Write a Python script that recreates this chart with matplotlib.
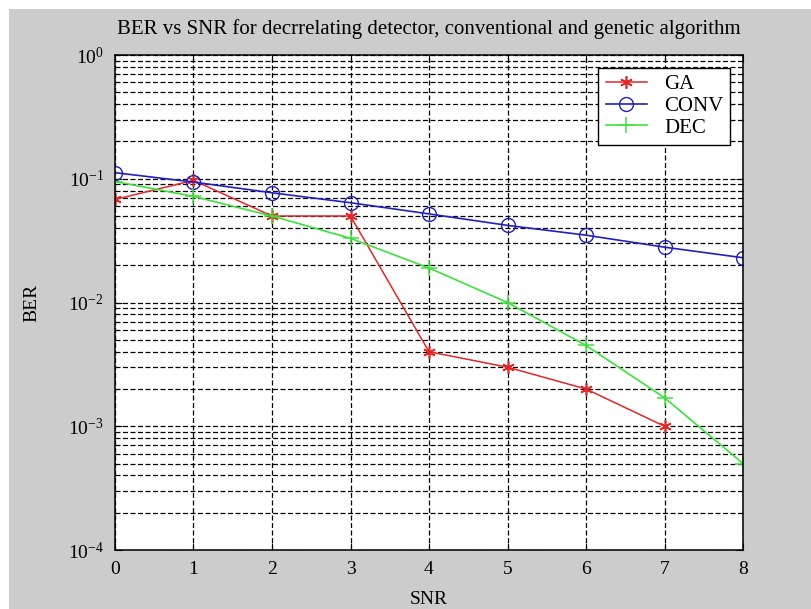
import matplotlib
matplotlib.use('Agg')
import matplotlib.pyplot as plt
from matplotlib.patches import Rectangle
from matplotlib.ticker import LogLocator, NullFormatter

plt.rcParams['font.family'] = 'Liberation Serif'
plt.rcParams['mathtext.fontset'] = 'custom'
plt.rcParams['mathtext.rm'] = 'Liberation Serif'
plt.rcParams['font.size'] = 13

# Data
snr_ga = [0, 1, 2, 3, 4, 5, 6, 7]
ber_ga = [0.068, 0.097, 0.050, 0.050, 0.0040, 0.0030, 0.0020, 0.0010]

snr = [0, 1, 2, 3, 4, 5, 6, 7, 8]
ber_conv = [0.112, 0.094, 0.077, 0.064, 0.052, 0.042, 0.035, 0.028, 0.023]
ber_dec = [0.095, 0.072, 0.050, 0.033, 0.019, 0.0100, 0.0045, 0.0017, 0.0005]

fig = plt.figure(figsize=(8.12, 6.09), dpi=100, facecolor='white')
# grey MATLAB-style figure background with a thin white margin top/left
fig.patches.append(Rectangle((9 / 812, 0), 803 / 812, 600 / 609,
                             transform=fig.transFigure, facecolor='#cccccc',
                             edgecolor='none', zorder=-1))

ax = fig.add_axes([115 / 812, 59 / 609, 628 / 812, 495 / 609])
ax.set_facecolor('white')

ax.plot(snr_ga, ber_ga, color='#e02828', marker=(6, 2, 0), markersize=9,
        markeredgewidth=1.2, linewidth=1.1, label='GA')
ax.plot(snr, ber_conv, color='#2020c0', marker='o', markersize=10,
        markerfacecolor='none', markeredgewidth=1.0, linewidth=1.2, label='CONV')
ax.plot(snr, ber_dec, color='#3ee03e', marker='+', markersize=11,
        markeredgewidth=1.1, linewidth=1.2, label='DEC')

ax.set_yscale('log')
ax.set_xlim(0, 8)
ax.set_ylim(1e-4, 1)
ax.set_xticks(range(0, 9))
ax.yaxis.set_major_locator(LogLocator(base=10, numticks=10))
ax.yaxis.set_minor_locator(LogLocator(base=10, subs=range(2, 10), numticks=20))
ax.yaxis.set_minor_formatter(NullFormatter())

# dotted MATLAB grid
grid_style = dict(color='black', linestyle=(0, (4, 2)), linewidth=0.9)
ax.grid(True, which='major', **grid_style)
ax.grid(True, which='minor', axis='y', **grid_style)
ax.set_axisbelow(True)

ax.tick_params(which='both', direction='in', top=True, right=True)
ax.tick_params(which='major', length=5, pad=8, labelsize=14)
ax.tick_params(which='minor', length=3)
for s in ax.spines.values():
    s.set_linewidth(1.1)

ax.set_title('BER vs SNR for decrrelating detector, conventional and genetic algorithm',
             fontsize=15, pad=15)
ax.set_xlabel('SNR', fontsize=14, labelpad=9)
ax.set_ylabel('BER', fontsize=14, labelpad=20)

leg = ax.legend(loc='upper right', fontsize=15, frameon=True, fancybox=False,
                edgecolor='black', framealpha=1, borderaxespad=0.6,
                handlelength=2.0, labelspacing=0.1, borderpad=0.35)
leg.get_frame().set_linewidth(1.0)

fig.savefig('out.png', dpi=100, facecolor='white')
